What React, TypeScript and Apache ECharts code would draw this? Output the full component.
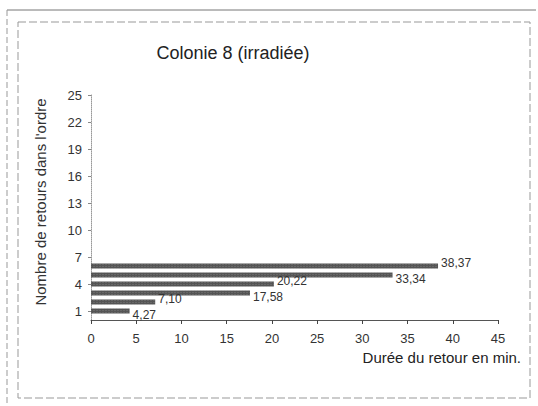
import React, { useEffect, useRef } from "react";
import * as echarts from "echarts";

const categories: string[] = Array.from({ length: 26 }, (_, i) => String(i));
const returnOrder: number[] = [1, 2, 3, 4, 5, 6];
const durations: number[] = [4.27, 7.1, 17.58, 20.22, 33.34, 38.37];
const xTicks = { min: 0, max: 45, interval: 5 };

const FONT = "'Liberation Sans', Arial, sans-serif";

export default function App() {
  const ref = useRef<HTMLDivElement>(null);
  useEffect(() => {
    if (!ref.current) return;
    const chart = echarts.init(ref.current, null, { renderer: "svg" });
    const data: any[] = categories.map(() => null);
    returnOrder.forEach((o, i) => {
      data[o] = {
        value: durations[i],
        label: { offset: [0, i % 2 === 0 ? 4 : -3] },
      };
    });
    chart.setOption({
      animation: false,
      backgroundColor: "#ffffff",
      textStyle: { fontFamily: FONT },
      grid: { left: 91, right: 40, top: 95, bottom: 86, containLabel: false },
      xAxis: {
        type: "value",
        min: xTicks.min,
        max: xTicks.max,
        interval: xTicks.interval,
        splitLine: { show: false },
        axisLine: { show: true, lineStyle: { color: "#555", width: 1 } },
        axisTick: { show: true, length: 4, inside: false, lineStyle: { color: "#444" } },
        axisLabel: { color: "#333", fontSize: 13, margin: 12, fontFamily: FONT },
      },
      yAxis: {
        type: "category",
        data: categories,
        boundaryGap: false,
        axisLine: { show: true, lineStyle: { color: "#999", width: 1, type: "dotted" } },
        axisTick: {
          show: true,
          length: 3,
          interval: (idx: number) => idx % 3 === 1,
          lineStyle: { color: "#888" },
        },
        axisLabel: {
          color: "#333",
          fontSize: 13,
          margin: 9,
          fontFamily: FONT,
          interval: (idx: number) => idx % 3 === 1,
        },
        splitLine: { show: false },
      },
      series: [
        {
          type: "bar",
          data,
          barWidth: 5,
          itemStyle: {
            color: "#555555",
            decal: {
              symbol: "rect",
              symbolSize: 0.6,
              dashArrayX: [2, 1],
              dashArrayY: [1, 1],
              color: "rgba(255,255,255,0.35)",
              rotation: 0,
            },
          },
          label: {
            show: true,
            position: "right",
            distance: 3,
            color: "#333",
            fontSize: 12,
            fontFamily: FONT,
            formatter: (p: any) => (p.value == null ? "" : Number(p.value).toFixed(2).replace(".", ",")),
          },
        },
      ],
      graphic: [
        { type: "line", shape: { x1: 7, y1: 10, x2: 536, y2: 10 }, style: { stroke: "#777", lineWidth: 1 } },
        { type: "line", shape: { x1: 7, y1: 10, x2: 7, y2: 406 }, style: { stroke: "#999", lineWidth: 1, lineDash: [6, 3] } },
        {
          type: "rect",
          shape: { x: 18, y: 22, width: 512, height: 376 },
          style: { fill: "none", stroke: "#999", lineWidth: 1, lineDash: [8, 3] },
        },
        {
          type: "text",
          x: 233,
          y: 53,
          style: {
            text: "Colonie 8 (irradiée)",
            fontSize: 18,
            fontFamily: FONT,
            fill: "#222",
            align: "center",
            verticalAlign: "middle",
          },
        },
        {
          type: "text",
          x: 40,
          y: 202,
          rotation: Math.PI / 2,
          style: {
            text: "Nombre de retours dans l'ordre",
            fontSize: 15,
            fontFamily: FONT,
            fill: "#333",
            align: "center",
            verticalAlign: "middle",
          },
        },
        {
          type: "text",
          x: 521,
          y: 357,
          style: {
            text: "Durée du retour en min.",
            fontSize: 15,
            fontFamily: FONT,
            fill: "#222",
            align: "right",
            verticalAlign: "middle",
          },
        },
      ],
    });
    return () => chart.dispose();
  }, []);
  return (
    <div
      ref={ref}
      style={{ position: "fixed", left: 0, top: 0, width: 538, height: 406, background: "#fff" }}
    />
  );
}
